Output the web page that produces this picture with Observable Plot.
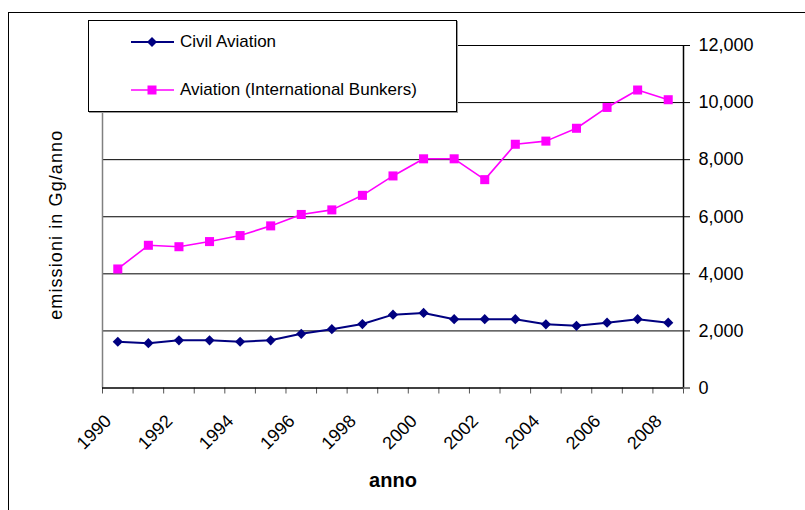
<!DOCTYPE html>
<html>
<head>
<meta charset="utf-8">
<script src="https://cdn.jsdelivr.net/npm/d3@7"></script>
<script src="https://cdn.jsdelivr.net/npm/@observablehq/plot@0.6"></script>
<style>
  html, body { margin: 0; padding: 0; background: #fff; overflow: hidden; }
  #wrap { position: relative; width: 805px; height: 510px; font-family: "Liberation Sans", Arial, sans-serif; }
  #frame { position: absolute; left: 8px; top: 12px; width: 900px; height: 600px; border: 1px solid #000; box-sizing: border-box; }
  #chart { position: absolute; left: 0; top: 0; }
  #legend { position: absolute; left: 88px; top: 20px; width: 369px; height: 92px; background: #fff;
            border: 1px solid #000; box-shadow: 1px 1px 0 #999; box-sizing: border-box; }
  .row { position: absolute; left: 0; height: 20px; display: flex; align-items: center; font-size: 17px; color: #000; }
  .row svg { margin-left: 42px; margin-right: 5px; }
  .ytitle { letter-spacing: 1.1px; }
</style>
</head>
<body>
<div id="wrap">
  <div id="frame"></div>
  <div id="chart"></div>
  <div id="legend"></div>
</div>
<script>
const years = [1990,1991,1992,1993,1994,1995,1996,1997,1998,1999,2000,2001,2002,2003,2004,2005,2006,2007,2008];
const civilAviation = [1620,1570,1670,1670,1620,1670,1900,2060,2240,2570,2630,2410,2410,2410,2230,2180,2290,2410,2290];
const bunkers = [4170,5000,4950,5130,5340,5680,6080,6240,6750,7430,8030,8030,7300,8540,8650,9100,9830,10440,10100];
const yTicks = [0,2000,4000,6000,8000,10000,12000];
const xTickLabels = [1990,1992,1994,1996,1998,2000,2002,2004,2006,2008];
const seriesNames = ["Civil Aviation", "Aviation (International Bunkers)"];
const seriesColors = ["#000080", "#FF00FF"];

const boundaries = years.concat([years[years.length - 1] + 1]);
const civilData = years.map((y, i) => ({x: y + 0.5, v: civilAviation[i]}));
const bunkerData = years.map((y, i) => ({x: y + 0.5, v: bunkers[i]}));

const chart = Plot.plot({
  width: 805,
  height: 510,
  marginLeft: 102,
  marginRight: 122,
  marginTop: 45,
  marginBottom: 122.5,
  style: {fontFamily: "'Liberation Sans', Arial, sans-serif", background: "transparent", color: "#000"},
  x: {type: "linear", domain: [boundaries[0], boundaries[boundaries.length - 1]], axis: null},
  y: {type: "linear", domain: [0, 12000], axis: null},
  marks: [
    Plot.ruleY(yTicks.filter(d => d > 0), {stroke: "#000", strokeWidth: 1}),
    Plot.ruleX([boundaries[0]], {stroke: "#808080", strokeWidth: 1.5}),
    Plot.axisX(boundaries, {anchor: "bottom", label: null, tickSize: 6, tickFormat: () => "", stroke: "#555", strokeWidth: 1}),
    Plot.ruleY([0], {stroke: "#000", strokeWidth: 1.5}),
    Plot.ruleX([boundaries[boundaries.length - 1]], {stroke: "#000", strokeWidth: 1.5}),
    Plot.axisY(yTicks, {anchor: "right", label: null, tickSize: 6, tickPadding: 9, tickFormat: d3.format(","), fontSize: 18, stroke: "#000", fill: "#000"}),
    Plot.text(xTickLabels, {x: d => d + 0.5, text: d => String(d), frameAnchor: "bottom", rotate: -45,
      textAnchor: "end", lineAnchor: "middle", dx: -9.5, dy: 30, fontSize: 18, fill: "#000"}),
    Plot.text(["emissioni in Gg/anno"], {frameAnchor: "left", text: d => d, rotate: -90, dx: -46, dy: 8,
      fontSize: 18, fill: "#000", textAnchor: "middle", lineAnchor: "middle", className: "ytitle"}),
    Plot.text(["anno"], {frameAnchor: "bottom", text: d => d, dy: 93, fontSize: 20, fontWeight: "bold", fill: "#000", lineAnchor: "middle"}),
    Plot.line(bunkerData, {x: "x", y: "v", stroke: seriesColors[1], strokeWidth: 1.6}),
    Plot.dot(bunkerData, {x: "x", y: "v", symbol: "square", r: 5.1, fill: seriesColors[1], stroke: "none"}),
    Plot.line(civilData, {x: "x", y: "v", stroke: seriesColors[0], strokeWidth: 2}),
    Plot.dot(civilData, {x: "x", y: "v", symbol: "diamond2", r: 4.6, fill: seriesColors[0], stroke: "none"})
  ]
});
document.getElementById("chart").appendChild(chart);

// Legend
const legend = document.getElementById("legend");
const rowTops = [11, 59];
const symbolPaths = [
  "M21,-5 L26,0 L21,5 L16,0 Z",
  "M16.5,-4.5 L25.5,-4.5 L25.5,4.5 L16.5,4.5 Z"
];
seriesNames.forEach((name, i) => {
  const row = document.createElement("div");
  row.className = "row";
  row.style.top = rowTops[i] + "px";
  const ns = "http://www.w3.org/2000/svg";
  const svg = document.createElementNS(ns, "svg");
  svg.setAttribute("width", 44);
  svg.setAttribute("height", 20);
  svg.setAttribute("viewBox", "0 -10 44 20");
  const line = document.createElementNS(ns, "line");
  line.setAttribute("x1", 0); line.setAttribute("x2", 43);
  line.setAttribute("y1", 0); line.setAttribute("y2", 0);
  line.setAttribute("stroke", seriesColors[i]);
  line.setAttribute("stroke-width", i === 0 ? 2 : 1.6);
  svg.appendChild(line);
  const sym = document.createElementNS(ns, "path");
  sym.setAttribute("d", symbolPaths[i]);
  sym.setAttribute("fill", seriesColors[i]);
  svg.appendChild(sym);
  row.appendChild(svg);
  const label = document.createElement("span");
  label.textContent = name;
  row.appendChild(label);
  legend.appendChild(row);
});
</script>
</body>
</html>
